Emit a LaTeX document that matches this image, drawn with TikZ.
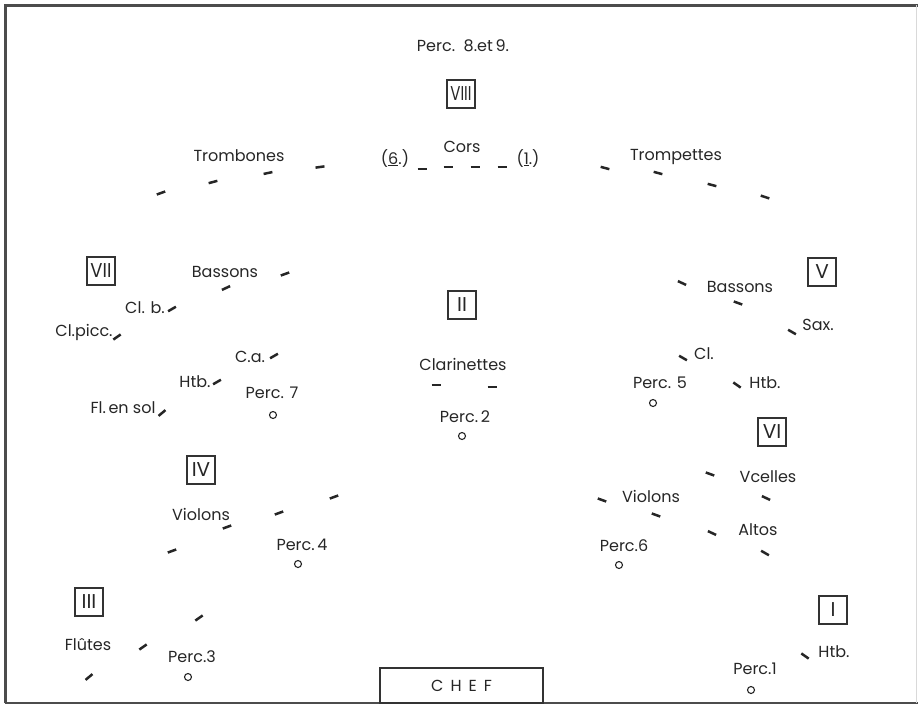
\documentclass[tikz,border=0pt]{standalone}
\usepackage{fontspec}
\setmainfont{Poppins}

\begin{document}
\begin{tikzpicture}[x=1pt, y=-1pt,
    instr/.style={anchor=base, inner sep=0pt, font=\fontsize{16}{19}\selectfont, text=black!85},
    group/.style={draw=black!80, line width=1.2pt, minimum width=28pt, minimum height=28pt, inner sep=1pt, font=\fontsize{20}{22}\selectfont, text=black!85},
    seat/.style={line width=2.5pt, black!85},
    perc/.style={circle, draw=black!85, line width=1.1pt, minimum size=7pt, inner sep=0pt},
    podium/.style={draw=black!80, line width=1.2pt, minimum width=163pt, minimum height=35pt, font=\fontsize{16}{19}\selectfont, text=black!85},
    frame/.style={black!70, line width=3pt}
  ]
    \useasboundingbox (0,0) rectangle (918,705);
    % frame
    \draw[frame] (5,703) -- (5,5) -- (918,5);
    \draw[black!70, line width=1.5pt] (5,703) -- (918,703);
    \draw[black!15, line width=0.8pt] (916,5) -- (916,703);

    % groups
    \node[group] (gVIII) at (461,94) {\scalebox{0.75}[1]{VIII}};
    \node[group] (gVII) at (101,271) {\scalebox{0.9}[1]{VII}};
    \node[group] (gII) at (462,305) {II};
    \node[group] (gV) at (822,272) {V};
    \node[group] (gIV) at (201,470) {IV};
    \node[group] (gVI) at (772,432) {VI};
    \node[group] (gIII) at (89,602) {III};
    \node[group] (gI) at (833,610) {I};
    \node[podium] (chef) at (461.5,685.5) {C\hspace{7pt}H\hspace{7pt}E\hspace{7pt}F};

    % labels
    \node[instr] (perc89) at (463,51) {Perc.~~8.et\,9.};
    \node[instr] (cors) at (462,152) {Cors};
    \node[instr] (six) at (395,164) {(\underline{6}.)};
    \node[instr] (one) at (528,164) {(\underline{1}.)};
    \node[instr] (trombones) at (239,161) {Trombones};
    \node[instr] (trompettes) at (676,160) {Trompettes};
    \node[instr] (bassonsL) at (225,277) {Bassons};
    \node[instr] (clb) at (145,313) {Cl. b.};
    \node[instr] (clpicc) at (84,336) {Cl.picc.};
    \node[instr] (ca) at (250,362) {C.a.};
    \node[instr] (htbL) at (195,387) {Htb.};
    \node[instr] (perc7) at (272,398) {Perc. 7};
    \node[instr] (flsol) at (123,413) {Fl.\,en sol};
    \node[instr] (violonsL) at (201,520) {Violons};
    \node[instr] (perc4) at (302,550) {Perc.\,4};
    \node[instr] (flutes) at (88,650) {Flûtes};
    \node[instr] (perc3) at (192,662) {Perc.3};
    \node[instr] (clarinettes) at (463,370) {Clarinettes};
    \node[instr] (perc2) at (465,422) {Perc.\,2};
    \node[instr] (bassonsR) at (740,292) {Bassons};
    \node[instr] (sax) at (818,330) {Sax.};
    \node[instr] (cl) at (704,359) {Cl.};
    \node[instr] (perc5) at (660,388) {Perc. 5};
    \node[instr] (htbR) at (765,388) {Htb.};
    \node[instr] (vcelles) at (768,482) {Vcelles};
    \node[instr] (violonsR) at (651,502) {Violons};
    \node[instr] (altos) at (758,535) {Altos};
    \node[instr] (perc6) at (624,551) {Perc.6};
    \node[instr] (htbI) at (834,657) {Htb.};
    \node[instr] (perc1) at (755,674) {Perc.1};

    % percussion places
    \node[perc] (p7) at (273,415) {};
    \node[perc] (p2) at (462,436) {};
    \node[perc] (p5) at (653,403) {};
    \node[perc] (p4) at (298,564) {};
    \node[perc] (p6) at (619,565) {};
    \node[perc] (p3) at (188,677) {};
    \node[perc] (p1) at (751,690) {};

    % desks
    \foreach \x/\y/\a in {161/193/20, 213/182/15, 268/173/12, 320/167/8,
        422/169/0, 448/167/0, 475/167/0, 502/167/0,
        605/168/-15, 658/173/-15, 712/185/-15, 765/197/-18,
        285/274/20, 226/288/25, 172/309/30, 117/337/35, 274/356/30, 217/382/30, 162/413/40,
        334/497/20, 279/513/20, 227/527/20, 172/551/20,
        199/618/35, 143/647/35, 89/677/40,
        436/385/0, 492/387/0,
        682/283/-25, 738/303/-20, 792/332/-30, 683/358/-30, 737/385/-35,
        710/474/-20, 766/498/-25, 602/500/-20, 656/515/-20, 712/533/-25, 765/553/-30,
        805/656/-35}
      \draw[seat, shift={(\x,\y)}, rotate=\a] (-4.5,0) -- (4.5,0);
\end{tikzpicture}
\end{document}
